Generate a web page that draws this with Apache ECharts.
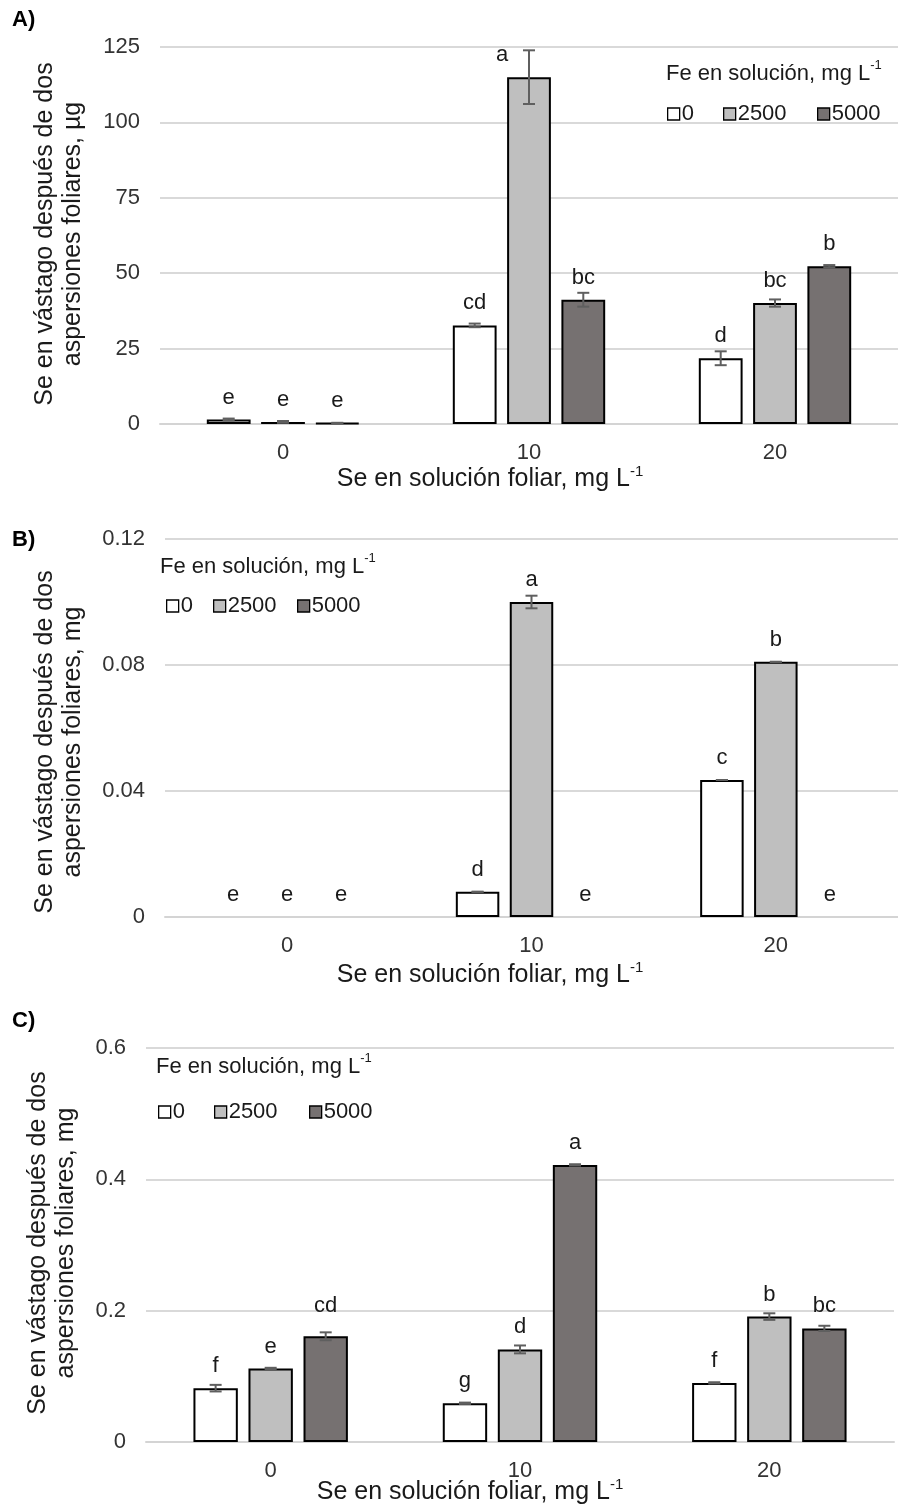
<!DOCTYPE html>
<html>
<head>
<meta charset="utf-8">
<title>Se en vástago</title>
<script src="https://cdn.jsdelivr.net/npm/echarts@6/dist/echarts.min.js"></script>
<style>
  html, body { margin: 0; padding: 0; background: #fff; }
  #chart { width: 898px; height: 1510px; }
</style>
</head>
<body>
<div id="chart"></div>
<script>
// Categories: Se in the foliar solution (mg L-1); series: Fe in solution (mg L-1)
const seLevels = ['0', '10', '20'];
const feLevels = ['0', '2500', '5000'];

// A) Se in shoot after two foliar sprays, µg
const seA_fe0    = [1.5, 32.7, 21.8];
const seA_fe2500 = [0.7, 115.0, 40.1];
const seA_fe5000 = [0.3, 41.2, 52.3];
const errA_fe0    = [0.3, 0.6, 2.3];
const errA_fe2500 = [0.3, 8.9, 1.2];
const errA_fe5000 = [0.1, 2.3, 0.4];
const letA_fe0    = ['e', 'cd', 'd'];
const letA_fe2500 = ['e', 'a', 'bc'];
const letA_fe5000 = ['e', 'bc', 'b'];

// B) Se in shoot after two foliar sprays, mg
const seB_fe0    = [0, 0.008, 0.0435];
const seB_fe2500 = [0, 0.100, 0.081];
const seB_fe5000 = [0, 0, 0];
const errB_fe0    = [0, 0, 0];
const errB_fe2500 = [0, 0.002, 0];
const errB_fe5000 = [0, 0, 0];
const letB_fe0    = ['e', 'd', 'c'];
const letB_fe2500 = ['e', 'a', 'b'];
const letB_fe5000 = ['e', 'e', 'e'];

// C) Se in shoot after two foliar sprays, mg
const seC_fe0    = [0.082, 0.059, 0.090];
const seC_fe2500 = [0.112, 0.141, 0.191];
const seC_fe5000 = [0.161, 0.422, 0.173];
const errC_fe0    = [0.005, 0.001, 0.001];
const errC_fe2500 = [0.001, 0.006, 0.005];
const errC_fe5000 = [0.006, 0.001, 0.004];
const letC_fe0    = ['f', 'g', 'f'];
const letC_fe2500 = ['e', 'd', 'b'];
const letC_fe5000 = ['cd', 'a', 'bc'];

// Value-axis ranges [min, max, interval]
const axisA = [0, 125, 25];
const axisB = [0, 0.12, 0.04];
const axisC = [0, 0.6, 0.2];

const FONT = '"Liberation Sans", Arial, sans-serif';
const FILLS = ['#FFFFFF', '#BFBFBF', '#767171'];
const BAR_W = 0.178;
const BAR_GAP = 0.24;

const panels = [
  {
    tag: 'A)', values: [seA_fe0, seA_fe2500, seA_fe5000],
    errors: [errA_fe0, errA_fe2500, errA_fe5000],
    letters: [letA_fe0, letA_fe2500, letA_fe5000], axis: axisA,
    grid: { left: 160, top: 47, width: 738, height: 377 },
    unit: 'µg',
    labelShift: { '1-1': [-27, 0] },
    tagPos: [12, 20], yName: [59, 234], xName: [490, 478],
    legendTitle: [666, 72], legendItems: [662, 718, 812], legendY: 110
  },
  {
    tag: 'B)', values: [seB_fe0, seB_fe2500, seB_fe5000],
    errors: [errB_fe0, errB_fe2500, errB_fe5000],
    letters: [letB_fe0, letB_fe2500, letB_fe5000], axis: axisB,
    grid: { left: 165, top: 539, width: 733, height: 378 },
    unit: 'mg',
    labelShift: {},
    tagPos: [12, 540], yName: [59, 742], xName: [490, 974],
    legendTitle: [160, 565], legendItems: [161, 208, 292], legendY: 602
  },
  {
    tag: 'C)', values: [seC_fe0, seC_fe2500, seC_fe5000],
    errors: [errC_fe0, errC_fe2500, errC_fe5000],
    letters: [letC_fe0, letC_fe2500, letC_fe5000], axis: axisC,
    grid: { left: 146, top: 1048, width: 748, height: 394 },
    unit: 'mg',
    labelShift: { '2-0': [0, -8] },
    tagPos: [12, 1021], yName: [52, 1243], xName: [470, 1491],
    legendTitle: [156, 1065], legendItems: [153, 209, 304], legendY: 1108
  }
];

// Error bars drawn at the centre of each grouped bar
function errorBar(params, api) {
  const c = api.value(0), s = api.value(1), v = api.value(2), e = api.value(3);
  if (!(v > 0)) return null;
  const band = api.size([1, 0])[0];
  const bw = band * BAR_W;
  const step = bw * (1 + BAR_GAP);
  const x = api.coord([c, v])[0] + (s - 1) * step;
  const yHi = api.coord([c, v + e])[1];
  const yLo = api.coord([c, v - e])[1];
  const style = { stroke: '#5f5f5f', lineWidth: 2 };
  return {
    type: 'group',
    children: [
      { type: 'line', shape: { x1: x, y1: yHi, x2: x, y2: yLo }, style },
      { type: 'line', shape: { x1: x - 6, y1: yHi, x2: x + 6, y2: yHi }, style },
      { type: 'line', shape: { x1: x - 6, y1: yLo, x2: x + 6, y2: yLo }, style }
    ]
  };
}

const grids = [], xAxes = [], yAxes = [], series = [], legends = [], graphics = [];

const supRich = {
  m: { fontFamily: FONT, fontSize: 25, lineHeight: 28, fill: '#1a1a1a', verticalAlign: 'bottom' },
  s: { fontFamily: FONT, fontSize: 15, lineHeight: 28, fill: '#1a1a1a', verticalAlign: 'top' }
};
const supRichSmall = {
  m: { fontFamily: FONT, fontSize: 22, lineHeight: 26, fill: '#1a1a1a', verticalAlign: 'bottom' },
  s: { fontFamily: FONT, fontSize: 13, lineHeight: 26, fill: '#1a1a1a', verticalAlign: 'top' }
};

panels.forEach((p, gi) => {
  grids.push(Object.assign({ containLabel: false }, p.grid));
  xAxes.push({
    type: 'category', gridIndex: gi, data: seLevels,
    axisLine: { lineStyle: { color: '#d4d4d4', width: 2 } },
    axisTick: { show: false },
    axisLabel: { fontFamily: FONT, fontSize: 22, color: '#333333', margin: 18 }
  });
  yAxes.push({
    type: 'value', gridIndex: gi,
    min: p.axis[0], max: p.axis[1], interval: p.axis[2],
    axisLine: { show: false }, axisTick: { show: false },
    splitLine: { lineStyle: { color: '#d9d9d9', width: 2 } },
    axisLabel: { fontFamily: FONT, fontSize: 22, color: '#333333', margin: 20 }
  });

  const errData = [];
  p.values.forEach((vals, si) => {
    series.push({
      type: 'bar', name: feLevels[si], xAxisIndex: gi, yAxisIndex: gi,
      barWidth: (BAR_W * 100) + '%', barGap: (BAR_GAP * 100) + '%',
      itemStyle: { color: FILLS[si], borderColor: '#000', borderWidth: 2 },
      label: {
        show: true, position: 'top', distance: 11,
        fontFamily: FONT, fontSize: 22, color: '#1a1a1a',
        formatter: (prm) => p.letters[si][prm.dataIndex]
      },
      data: vals.map((v, ci) => {
        const item = { value: v };
        if (v === 0) item.itemStyle = { borderWidth: 0 };
        const shift = p.labelShift[si + '-' + ci];
        if (shift) item.label = { offset: shift };
        return item;
      })
    });
    vals.forEach((v, ci) => errData.push([ci, si, v, p.errors[si][ci]]));
  });
  series.push({
    type: 'custom', xAxisIndex: gi, yAxisIndex: gi, z: 5, clip: false,
    renderItem: errorBar, encode: { x: 0, y: 2 }, data: errData,
    silent: true, tooltip: { show: false }
  });

  // legend: one entry per Fe level, placed individually
  feLevels.forEach((name, si) => {
    legends.push({
      data: [{ name, itemStyle: { color: FILLS[si], borderColor: '#000', borderWidth: 1.3 } }],
      left: p.legendItems[si], top: p.legendY - 12,
      icon: 'rect', itemWidth: 12, itemHeight: 12, selectedMode: false,
      textStyle: { fontFamily: FONT, fontSize: 22, color: '#1a1a1a', padding: [0, 0, 0, -3] }
    });
  });

  // panel tag
  graphics.push({
    type: 'text', x: p.tagPos[0], y: p.tagPos[1],
    style: { text: p.tag, font: 'bold 22px ' + FONT, fill: '#000', textVerticalAlign: 'middle' }
  });
  // y-axis title (two lines)
  graphics.push({
    type: 'text', x: p.yName[0], y: p.yName[1], rotation: Math.PI / 2,
    style: {
      text: 'Se en vástago después de dos\naspersiones foliares, ' + p.unit,
      font: '25px ' + FONT, fill: '#1a1a1a', lineHeight: 28,
      textAlign: 'center', textVerticalAlign: 'middle'
    }
  });
  // x-axis title
  graphics.push({
    type: 'text', x: p.xName[0], y: p.xName[1],
    style: {
      text: '{m|Se en solución foliar, mg L}{s|-1}', rich: supRich,
      textAlign: 'center', textVerticalAlign: 'middle'
    }
  });
  // legend title
  graphics.push({
    type: 'text', x: p.legendTitle[0], y: p.legendTitle[1],
    style: {
      text: '{m|Fe en solución, mg L}{s|-1}', rich: supRichSmall,
      textAlign: 'left', textVerticalAlign: 'middle'
    }
  });
});

const chart = echarts.init(document.getElementById('chart'), null, { renderer: 'canvas' });
chart.setOption({
  backgroundColor: '#ffffff',
  animation: false,
  grid: grids,
  xAxis: xAxes,
  yAxis: yAxes,
  legend: legends,
  series: series,
  graphic: graphics
});
</script>
</body>
</html>
